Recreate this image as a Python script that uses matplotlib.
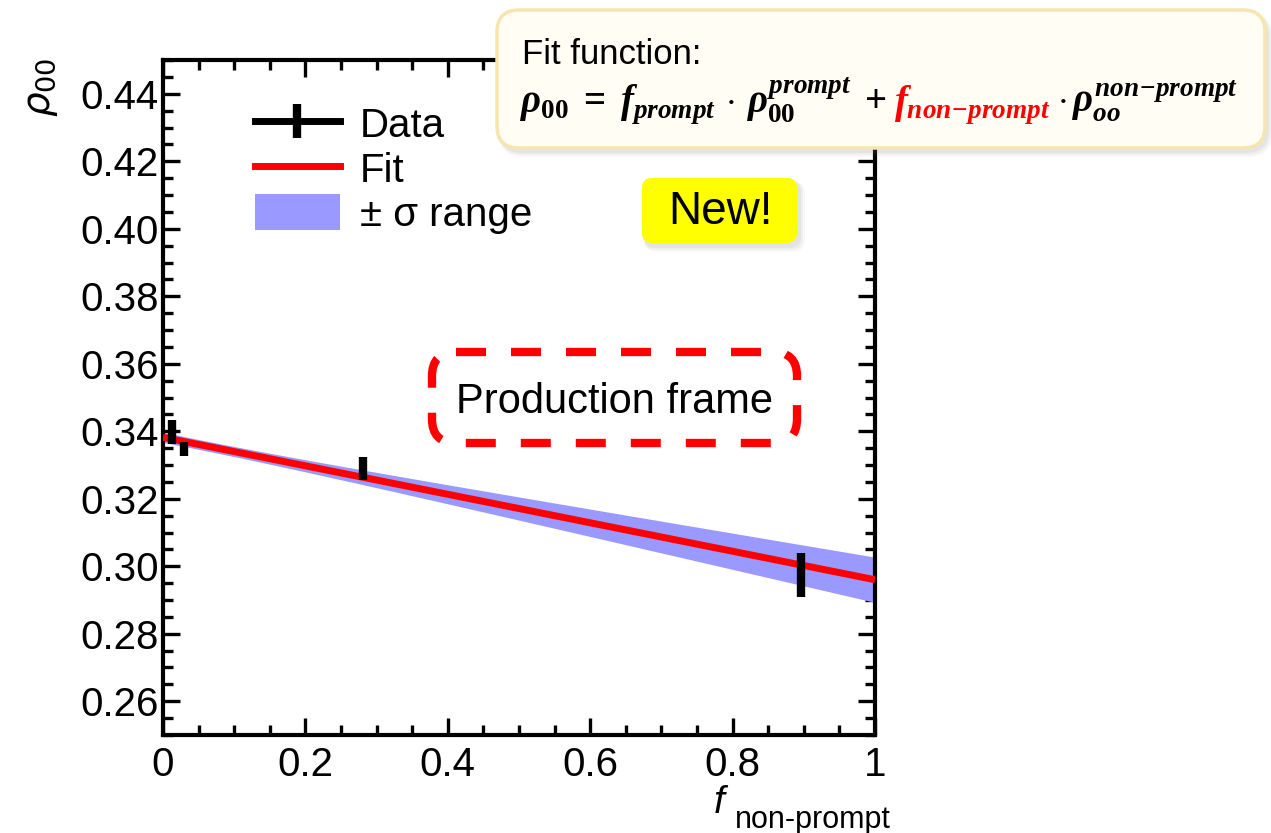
import numpy as np
import matplotlib
matplotlib.use("Agg")
import matplotlib.pyplot as plt
import matplotlib.transforms as mtransforms
from matplotlib.patches import FancyBboxPatch, Patch
from matplotlib.lines import Line2D
from matplotlib.ticker import MultipleLocator, FixedLocator

plt.rcParams['font.family'] = ['Liberation Sans', 'DejaVu Sans']
plt.rcParams['mathtext.fontset'] = 'custom'
plt.rcParams['mathtext.rm'] = 'Liberation Serif:bold'
plt.rcParams['mathtext.it'] = 'Liberation Serif:italic:bold'
plt.rcParams['mathtext.bf'] = 'Liberation Serif:bold'

# measured rho00 vs non-prompt fraction
f_np = [0.013, 0.029, 0.281, 0.896]
rho00 = [0.3397, 0.3347, 0.3290, 0.2975]
rho00_err = [0.0035, 0.0020, 0.0035, 0.0065]

# fit result: rho00 = (1-f)*rho_prompt + f*rho_nonprompt
rho_prompt, rho_prompt_err = 0.3382, 0.0015
rho_nonprompt, rho_nonprompt_err = 0.2960, 0.0067

xticks = [0, 0.2, 0.4, 0.6, 0.8, 1]
xticklabels = ['0', '0.2', '0.4', '0.6', '0.8', '1']
yticks = [0.26, 0.28, 0.30, 0.32, 0.34, 0.36, 0.38, 0.40, 0.42, 0.44]

W, H = 1271, 833
fig = plt.figure(figsize=(W / 100, H / 100), dpi=100)
ax = fig.add_axes([163 / W, 98 / H, 712 / W, 675 / H])

# pixel coords, origin top-left
pix = mtransforms.Affine2D().scale(1 / W, -1 / H).translate(0, 1) + fig.transFigure

f = np.linspace(0, 1, 200)
fit = (1 - f) * rho_prompt + f * rho_nonprompt
sig = np.sqrt(((1 - f) * rho_prompt_err) ** 2 + (f * rho_nonprompt_err) ** 2)
ax.fill_between(f, fit - sig, fit + sig, color='#9999ff', lw=0, zorder=2)
ax.plot(f, fit, color='red', lw=5, solid_capstyle='butt', zorder=3)
ax.errorbar(f_np, rho00, yerr=rho00_err, fmt='none', ecolor='black',
            elinewidth=6, capsize=0, zorder=4)

ax.set_xlim(0, 1)
ax.set_ylim(0.25, 0.45)
ax.xaxis.set_major_locator(FixedLocator(xticks))
ax.set_xticklabels(xticklabels)
ax.xaxis.set_minor_locator(MultipleLocator(0.05))
ax.yaxis.set_major_locator(FixedLocator(yticks))
ax.set_yticklabels([f'{v:.2f}' for v in yticks])
ax.yaxis.set_minor_locator(MultipleLocator(0.005))
ax.tick_params(which='both', direction='in', top=True, right=True,
               width=2.4, labelsize=29)
ax.tick_params(axis='y', which='major', length=12.5, pad=3)
ax.tick_params(axis='x', which='major', length=12.5, pad=8)
ax.tick_params(which='minor', length=7)
for s in ax.spines.values():
    s.set_linewidth(3)

# axis titles
fig.text(42 / W, 1 - 58 / H, r'$\rho_{00}$', rotation=90, ha='center',
         va='top', fontsize=28, math_fontfamily='dejavusans')
fig.text(714 / W, 1 - 813 / H, 'f', style='italic', fontsize=28,
         va='baseline')
fig.text(735 / W, 1 - 828 / H, 'non-prompt', fontsize=22, va='baseline')

handles = [
    Line2D([0], [0], color='black', lw=5, marker='|', markersize=24, mew=6),
    Line2D([0], [0], color='red', lw=5),
    Patch(facecolor='#9999ff', edgecolor='none'),
]
ax.legend(handles, ['Data', 'Fit', '\u00b1 \u03c3 range'], loc='upper left',
          bbox_to_anchor=(0.101, 0.963), frameon=False, fontsize=29,
          handlelength=2.1, handleheight=1.0, handletextpad=0.5,
          labelspacing=0.12, borderpad=0)


def shadow(x, y, w, h, r):
    for k, a in [(6, 0.05), (4, 0.07), (2, 0.09)]:
        fig.add_artist(FancyBboxPatch(
            (x + 2, y + 3), w + k, h + k,
            boxstyle=f'round,pad=0,rounding_size={r + k / 2}',
            transform=pix, facecolor='gray', edgecolor='none', alpha=a,
            zorder=4))


# fit function box
shadow(497, 10, 768, 138, 22)
fig.add_artist(FancyBboxPatch(
    (497, 10), 768, 138, boxstyle='round,pad=0,rounding_size=22',
    transform=pix, facecolor='#fffdf4', edgecolor='#f6e6ae', lw=2.5,
    zorder=5))
fig.text(522 / W, 1 - 64 / H, 'Fit function:', fontsize=25, va='baseline',
         zorder=6)

pieces = [
    (r'$\rho_{00}\;=\;f_{prompt}\,\cdot\,\rho_{00}^{prompt}\;+$', 'black'),
    (r'$f_{non\!-\!prompt}$', 'red'),
    (r'$\cdot\,\rho_{oo}^{non\!-\!prompt}$', 'black'),
]
renderer = fig.canvas.get_renderer()
x0 = 520
for s, c in pieces:
    t = fig.text(x0 / W, 1 - 113 / H, s, color=c, fontsize=28,
                 va='baseline', math_fontfamily='custom', zorder=6)
    bb = t.get_window_extent(renderer)
    x0 = bb.x1 + 7

# New! badge
shadow(642, 178, 155, 65, 10)
fig.add_artist(FancyBboxPatch(
    (642, 178), 155, 65, boxstyle='round,pad=0,rounding_size=10',
    transform=pix, facecolor='#ffff00', edgecolor='none', zorder=5))
fig.text(720 / W, 1 - 212 / H, 'New!', fontsize=33, ha='center',
         va='center', zorder=6)

# production frame label
fig.add_artist(FancyBboxPatch(
    (432, 352), 365, 91, boxstyle='round,pad=0,rounding_size=24',
    transform=pix, facecolor='none', edgecolor='red', lw=6,
    linestyle=(0, (3.6, 3.0)), zorder=5))
fig.text(615 / W, 1 - 402 / H, 'Production frame', fontsize=30,
         ha='center', va='center', zorder=6)

fig.savefig('out.png', dpi=100)
